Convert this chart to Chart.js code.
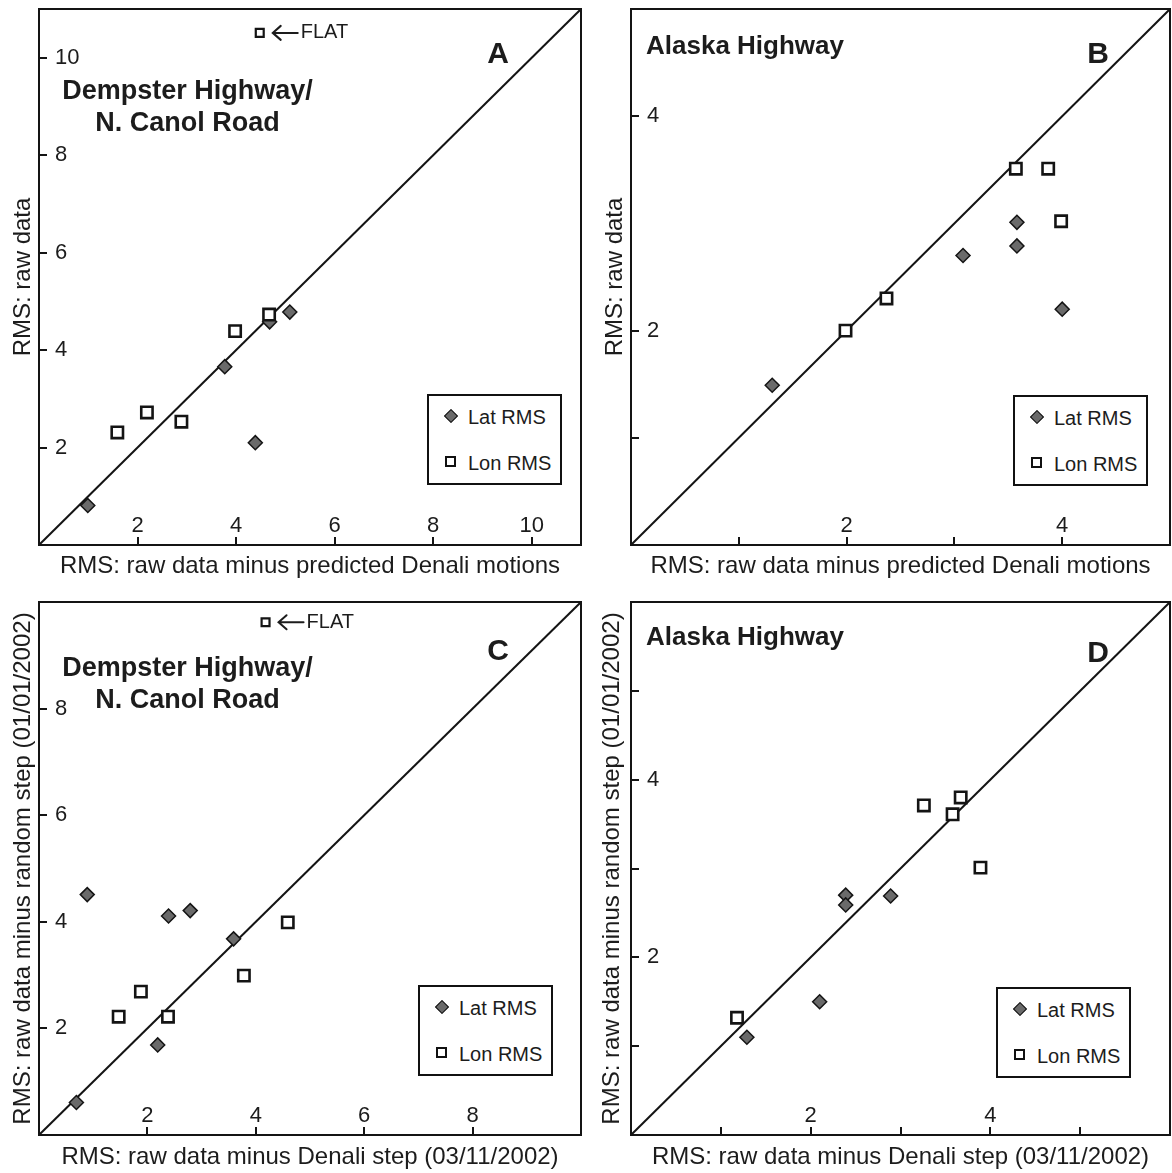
<!DOCTYPE html>
<html>
<head>
<meta charset="utf-8">
<script src="https://cdn.jsdelivr.net/npm/chart.js@4/dist/chart.umd.min.js"></script>
<style>
  html, body { margin: 0; padding: 0; background: #fff; }
  #wrap { position: relative; width: 1172px; height: 1173px; background: #fff; overflow: hidden;
          font-family: "Liberation Sans", Arial, sans-serif; color: #1c1c1c; }
  canvas { position: absolute; }
  .ttl { position: absolute; font-weight: bold; font-size: 27px; line-height: 32px; white-space: nowrap; text-align: center; }
  .ttlL { text-align: left; font-size: 26px; }
  .letter { position: absolute; font-weight: bold; font-size: 30px; line-height: 32px; transform: translate(-50%, 0); }
  .legend { position: absolute; border: 2px solid #111; box-sizing: border-box; background: #fff; }
  .legend .dia { position: absolute; width: 8px; height: 8px; background: #6a6a6a; border: 1.5px solid #111; transform: rotate(45deg); }
  .legend .sq { position: absolute; width: 7px; height: 7px; background: #fff; border: 2.5px solid #111; }
  .legend .txt { position: absolute; white-space: nowrap; }
</style>
</head>
<body>
<div id="wrap">
  <canvas id="cA" width="590" height="590" style="left:0;top:0"></canvas>
  <canvas id="cB" width="582" height="590" style="left:590px;top:0"></canvas>
  <canvas id="cC" width="590" height="583" style="left:0;top:590px"></canvas>
  <canvas id="cD" width="582" height="583" style="left:590px;top:590px"></canvas>
</div>
<script>
// ---------------- DATA ----------------
// Panel A: RMS raw data vs raw data minus predicted Denali motions (Dempster Hwy / N. Canol Rd)
const latA_x = [0.99, 3.77, 4.68, 5.09, 4.39];
const latA_y = [0.81, 3.66, 4.58, 4.78, 2.10];
const lonA_x = [1.59, 2.19, 2.89, 3.98, 4.67];
const lonA_y = [2.31, 2.72, 2.53, 4.39, 4.73];
const flatA_x = [4.48];
const flatA_y = [10.51];

// Panel B: Alaska Highway
const latB_x = [1.31, 3.08, 3.58, 3.58, 4.00];
const latB_y = [1.49, 2.70, 3.01, 2.79, 2.20];
const lonB_x = [1.99, 2.37, 3.57, 3.87, 3.99];
const lonB_y = [2.00, 2.30, 3.51, 3.51, 3.02];

// Panel C: raw minus random step vs raw minus Denali step (Dempster / N. Canol)
const latC_x = [0.69, 0.89, 2.39, 2.79, 3.59, 2.19];
const latC_y = [0.61, 4.51, 4.11, 4.21, 3.68, 1.69];
const lonC_x = [1.47, 1.88, 2.38, 3.78, 4.59];
const lonC_y = [2.22, 2.69, 2.22, 2.99, 3.99];
const flatC_x = [4.18];
const flatC_y = [9.62];

// Panel D: Alaska Highway
const latD_x = [1.29, 2.10, 2.39, 2.39, 2.89];
const latD_y = [1.10, 1.50, 2.70, 2.59, 2.69];
const lonD_x = [1.18, 3.26, 3.58, 3.67, 3.89];
const lonD_y = [1.32, 3.71, 3.61, 3.80, 3.01];

// Axis ranges (both axes share the range; the 1:1 line spans it)
const rangeA = [0, 11];
const rangeB = [0, 5];
const rangeC = [0, 10];
const rangeD = [0, 6];

// Tick positions and labelled ticks
const ticksA_x = [2, 4, 6, 8, 10], ticksA_y = [2, 4, 6, 8, 10], labelsA = [2, 4, 6, 8, 10];
const ticksB_x = [1, 2, 3, 4],     ticksB_y = [1, 2, 4],          labelsB = [2, 4];
const ticksC_x = [2, 4, 6, 8],     ticksC_y = [2, 4, 6, 8],       labelsC = [2, 4, 6, 8];
const ticksD_x = [1, 2, 3, 4, 5],  ticksD_y = [1, 2, 3, 4, 5],    labelsD = [2, 4];

// Text
const xTitleTop = 'RMS: raw data minus predicted Denali motions';
const yTitleTop = 'RMS: raw data';
const xTitleBottom = 'RMS: raw data minus Denali step (03/11/2002)';
const yTitleBottom = 'RMS: raw data minus random step (01/01/2002)';
const seriesNames = ['Lat RMS', 'Lon RMS'];
const flatLabel = 'FLAT';

// ---------------- RENDER ----------------
const FONT = '"Liberation Sans", Arial, sans-serif';
const INK = '#141414';
const TXT = '#1c1c1c';

const zip = (xs, ys) => xs.map((x, i) => ({x: x, y: ys[i]}));

const framePlugin = {
  id: 'frame',
  afterDraw(chart) {
    const {ctx, chartArea: a} = chart;
    ctx.save();
    ctx.strokeStyle = INK;
    ctx.lineWidth = 2;
    ctx.strokeRect(a.left, a.top, a.right - a.left, a.bottom - a.top);
    ctx.restore();
  }
};

// "<- FLAT" annotation next to the off-scale point
const flatPlugin = {
  id: 'flatLabel',
  afterDatasetsDraw(chart) {
    chart.data.datasets.forEach((ds, i) => {
      if (!ds.flatText) return;
      const meta = chart.getDatasetMeta(i);
      const ctx = chart.ctx;
      ctx.save();
      meta.data.forEach(el => {
        const x0 = el.x + 13, x1 = el.x + 38, y = el.y;
        ctx.strokeStyle = TXT;
        ctx.lineWidth = 2;
        ctx.lineCap = 'round';
        ctx.beginPath();
        ctx.moveTo(x1, y); ctx.lineTo(x0, y);
        ctx.moveTo(x0 + 8, y - 7); ctx.lineTo(x0, y); ctx.lineTo(x0 + 8, y + 7);
        ctx.stroke();
        ctx.font = '20px ' + FONT;
        ctx.fillStyle = TXT;
        ctx.textBaseline = 'middle';
        ctx.textAlign = 'left';
        ctx.fillText(ds.flatText, el.x + 41, y);
      });
      ctx.restore();
    });
  }
};

function makePanel(id, p) {
  const datasets = [
    {
      type: 'line', label: '1:1', order: 10,
      data: [{x: p.range[0], y: p.range[0]}, {x: p.range[1], y: p.range[1]}],
      borderColor: INK, borderWidth: 2, pointRadius: 0, fill: false, tension: 0
    },
    {
      label: seriesNames[0], order: 2, data: zip(p.latX, p.latY),
      pointStyle: 'rectRot', pointRadius: 7, backgroundColor: '#6a6a6a', borderColor: INK, borderWidth: 1.5
    },
    {
      label: seriesNames[1], order: 1, data: zip(p.lonX, p.lonY),
      pointStyle: 'rect', pointRadius: 8, backgroundColor: '#ffffff', borderColor: INK, borderWidth: 2.6
    }
  ];
  if (p.flatX) {
    datasets.push({
      label: 'FLAT', order: 0, data: zip(p.flatX, p.flatY), flatText: flatLabel,
      pointStyle: 'rect', pointRadius: 5.6, backgroundColor: '#ffffff', borderColor: INK, borderWidth: 2.2
    });
  }
  const tickSetter = arr => (scale) => { scale.ticks = arr.map(v => ({value: v})); };
  const labelCb = labels => (v) => labels.includes(v) ? String(v) : '';
  const gridOpts = {drawOnChartArea: false, drawTicks: true, tickLength: -8, color: INK, lineWidth: 2};

  return new Chart(document.getElementById(id), {
    type: 'scatter',
    data: {datasets},
    options: {
      responsive: false, animation: false, devicePixelRatio: 1,
      layout: {autoPadding: false, padding: {top: p.padTop, right: p.padRight, left: 0, bottom: 0}},
      plugins: {legend: {display: false}, tooltip: {enabled: false}},
      scales: {
        x: {
          type: 'linear', position: 'bottom', min: p.range[0], max: p.range[1],
          afterBuildTicks: tickSetter(p.ticksX),
          afterFit: (s) => { s.height = p.xAxisH; s.paddingLeft = 0; s.paddingRight = 0; s.paddingTop = 0; s.paddingBottom = 0; },
          grid: gridOpts,
          border: {display: false},
          ticks: {mirror: true, padding: 6, autoSkip: false, maxRotation: 0, color: TXT,
                  font: {family: FONT, size: 22}, callback: labelCb(p.labels)},
          title: {display: true, text: p.xTitle, color: TXT, font: {family: FONT, size: 24},
                  padding: {top: 0, bottom: p.xTitlePad}}
        },
        y: {
          type: 'linear', position: 'left', min: p.range[0], max: p.range[1],
          afterBuildTicks: tickSetter(p.ticksY),
          afterFit: (s) => { s.width = p.yAxisW; s.paddingLeft = 0; s.paddingRight = 0; s.paddingTop = 0; s.paddingBottom = 0; },
          grid: gridOpts,
          border: {display: false},
          ticks: {mirror: true, padding: 16, autoSkip: false, color: TXT,
                  font: {family: FONT, size: 22}, callback: labelCb(p.labels)},
          title: {display: true, text: p.yTitle, color: TXT, font: {family: FONT, size: 24},
                  padding: {top: p.yTitlePad, bottom: 0}}
        }
      }
    },
    plugins: [framePlugin, flatPlugin]
  });
}

makePanel('cA', {range: rangeA, latX: latA_x, latY: latA_y, lonX: lonA_x, lonY: lonA_y, flatX: flatA_x, flatY: flatA_y,
  ticksX: ticksA_x, ticksY: ticksA_y, labels: labelsA, xTitle: xTitleTop, yTitle: yTitleTop,
  padTop: 9, padRight: 9, yAxisW: 39, xAxisH: 45, yTitlePad: 8.6, xTitlePad: 9.1});
makePanel('cB', {range: rangeB, latX: latB_x, latY: latB_y, lonX: lonB_x, lonY: lonB_y,
  ticksX: ticksB_x, ticksY: ticksB_y, labels: labelsB, xTitle: xTitleTop, yTitle: yTitleTop,
  padTop: 9, padRight: 2, yAxisW: 41, xAxisH: 45, yTitlePad: 10.6, xTitlePad: 9.1});
makePanel('cC', {range: rangeC, latX: latC_x, latY: latC_y, lonX: lonC_x, lonY: lonC_y, flatX: flatC_x, flatY: flatC_y,
  ticksX: ticksC_x, ticksY: ticksC_y, labels: labelsC, xTitle: xTitleBottom, yTitle: yTitleBottom,
  padTop: 12, padRight: 9, yAxisW: 39, xAxisH: 38, yTitlePad: 8.6, xTitlePad: 1.6});
makePanel('cD', {range: rangeD, latX: latD_x, latY: latD_y, lonX: lonD_x, lonY: lonD_y,
  ticksX: ticksD_x, ticksY: ticksD_y, labels: labelsD, xTitle: xTitleBottom, yTitle: yTitleBottom,
  padTop: 12, padRight: 2, yAxisW: 41, xAxisH: 38, yTitlePad: 7.6, xTitlePad: 1.6});

// ---------------- ANNOTATIONS (HTML text) ----------------
const wrap = document.getElementById('wrap');
function addDiv(cls, html, style) {
  const d = document.createElement('div');
  d.className = cls; d.innerHTML = html;
  Object.assign(d.style, style);
  wrap.appendChild(d);
  return d;
}
// Panel letters
[['A', 498, 37], ['B', 1098, 37], ['C', 498, 634], ['D', 1098, 636]].forEach(([t, x, y]) =>
  addDiv('letter', t, {left: x + 'px', top: y + 'px'}));
// Region titles
addDiv('ttl', 'Dempster Highway/<br>N. Canol Road', {left: '61px', top: '74px', width: '253px'});
addDiv('ttl', 'Dempster Highway/<br>N. Canol Road', {left: '61px', top: '651px', width: '253px'});
addDiv('ttl ttlL', 'Alaska Highway', {left: '646px', top: '29px'});
addDiv('ttl ttlL', 'Alaska Highway', {left: '646px', top: '620px'});
// Legends
function legend(left, top) {
  const box = addDiv('legend', '', {left: left + 'px', top: top + 'px', width: '135px', height: '91px'});
  box.innerHTML =
    '<div class="dia" style="left:17px;top:15px"></div>' +
    '<div class="txt" style="left:39px;top:9px;font-size:20px;line-height:24px">' + seriesNames[0] + '</div>' +
    '<div class="sq" style="left:16px;top:60px"></div>' +
    '<div class="txt" style="left:39px;top:55px;font-size:20px;line-height:24px">' + seriesNames[1] + '</div>';
}
legend(427, 394);
legend(1013, 395);
legend(418, 985);
legend(996, 987);
</script>
</body>
</html>
